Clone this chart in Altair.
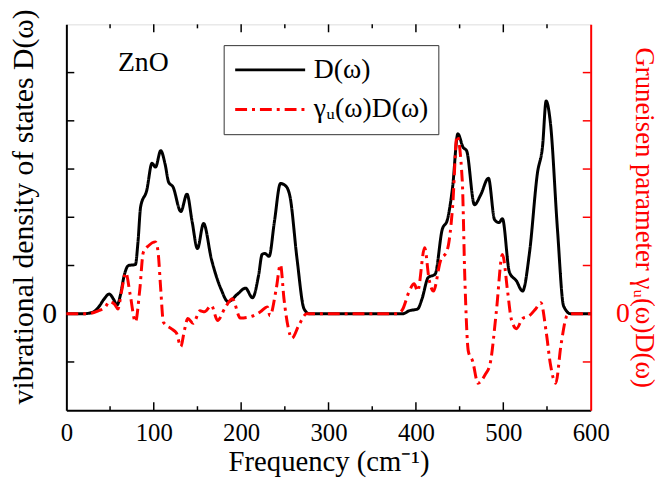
import altair as alt
import pandas as pd

# D(omega) curve: frequency (cm^-1), value
d_freq = [0, 20, 30, 37, 43, 49, 54, 58, 62, 66, 71, 79, 82, 85, 92, 98, 102, 108, 113, 117, 122, 131, 138,
          144, 150, 157, 166, 177, 185, 196, 205, 213, 220, 224, 227, 232, 238, 245, 251, 256, 264, 272, 278,
          385, 392, 402, 407, 414, 422, 430, 436, 442, 448, 454, 458, 467, 474, 483, 490, 495, 499, 507, 515,
          522, 530, 539, 545, 549, 554, 562, 569, 577, 600]
d_val = [0, 0, 0.03, 0.14, 0.3, 0.41, 0.3, 0.18, 0.4, 0.78, 1.0, 1.02, 1.5, 2.22, 2.56, 3.12, 3.04, 3.38, 3.1,
         2.73, 2.63, 2.12, 2.48, 1.9, 1.35, 1.87, 1.13, 0.51, 0.25, 0.41, 0.53, 0.33, 0.8, 1.23, 1.25, 1.19,
         1.9, 2.70, 2.65, 2.42, 1.13, 0.1, 0,
         0, 0.06, 0.1, 0.31, 0.75, 0.82, 1.74, 1.95, 2.63, 3.73, 3.45, 3.38, 2.26, 2.46, 2.81, 1.95, 1.89,
         1.97, 0.86, 0.68, 0.47, 1.27, 2.91, 3.49, 4.41, 3.94, 1.74, 0.16, 0, 0]

# gamma_u(omega) D(omega) curve
g_freq = [0, 23, 35, 45, 49, 55, 59, 63, 68, 73, 79, 84, 88, 94, 102, 105, 108, 111, 120, 126, 131, 135, 139,
          145, 153, 158, 166, 173, 181, 190, 199, 211, 222, 230, 233, 240, 245, 249, 254, 258, 266, 275,
          379, 385, 392, 398, 402, 410, 415, 420, 428, 436, 442, 447, 453, 456, 460, 465, 471, 479, 485,
          492, 499, 505, 509, 515, 522, 530, 537, 543, 549, 554, 560, 566, 573, 578, 600]
g_val = [0, 0, 0.05, 0.15, 0.25, 0.2, 0.1, 0.45, 0.85, 0.4, -0.17, 0.5, 1.27, 1.41, 1.49, 1.27, 0.5, -0.17,
         -0.31, -0.4, -0.68, -0.35, -0.1, -0.2, 0.06, 0.04, 0.17, -0.14, 0.1, 0.31, -0.09, -0.06, 0.04, 0.14,
         -0.04, 0.5, 1.02, 0.31, -0.3, -0.51, -0.24, 0,
         0, 0.1, 0.45, 0.62, 0.47, 1.37, 0.72, 0.47, 1.09, 1.33, 2.22, 3.69, 2.77, 0.72, -0.78, -0.99, -1.44,
         -1.27, -1.03, 0.04, 1.23, 0.45, -0.10, -0.31, -0.10, -0.04, 0.1, 0.23, -0.37, -1.06, -1.44, -0.65,
         -0.04, 0, 0]

series_names = ["D(ω)", "γᵤ(ω)D(ω)"]
y_ticks = [-1, 1, 2, 3, 4, 5]
x_major = [100, 200, 300, 400, 500]
x_minor = [50, 150, 250, 350, 450, 550]
x_labels = [0, 100, 200, 300, 400, 500, 600]
note_text = ["ZnO"]
note_x = [88]
note_y = [5.19]

FONT = "Liberation Serif"
W, H = 530, 390
YDOM = [-2, 6]

df = pd.concat([
    pd.DataFrame({"f": d_freq, "v": d_val, "s": series_names[0], "o": range(len(d_freq))}),
    pd.DataFrame({"f": g_freq, "v": g_val, "s": series_names[1], "o": range(len(g_freq))}),
])

x_enc = alt.X("f:Q", scale=alt.Scale(domain=[0, 600], nice=False, zero=False),
              axis=alt.Axis(values=x_labels, ticks=False, grid=False, domainColor="black", domainWidth=2,
                            labelFont=FONT, labelFontSize=25, labelColor="black", labelPadding=11,
                            labelFlush=False, title="Frequency (cm⁻¹)", titleFont=FONT, titleFontSize=29,
                            titleFontWeight="normal", titleColor="black", titlePadding=2))

yscale = alt.Scale(domain=YDOM, nice=False, zero=False)

leg = alt.Legend(orient="none", legendX=159, legendY=21, title=None, strokeColor="#333333",
                 fillColor="white", padding=10, rowPadding=10, symbolType="stroke", symbolSize=5000,
                 symbolStrokeWidth=3, labelFont=FONT, labelFontSize=28, labelColor="black",
                 labelOffset=7, symbolOffset=0, clipHeight=30)

lines = alt.Chart(df).mark_line(strokeWidth=3, interpolate="monotone").encode(
    x=x_enc,
    y=alt.Y("v:Q", scale=yscale,
            axis=alt.Axis(values=[0], ticks=False, grid=False, domainColor="black", domainWidth=2,
                          labelFont=FONT, labelFontSize=30, labelColor="black", labelPadding=10,
                          title="vibrational density of states D(ω)", titleFont=FONT, titleFontSize=30,
                          titleFontWeight="normal", titleColor="black", titlePadding=3, titleY=184)),
    color=alt.Color("s:N", scale=alt.Scale(domain=series_names, range=["black", "red"]), legend=leg),
    strokeDash=alt.StrokeDash("s:N", scale=alt.Scale(domain=series_names, range=[[1, 0], [12, 5, 3, 5]]),
                              legend=leg),
    order="o:Q",
)

left_ticks = alt.Chart(pd.DataFrame({"t": y_ticks})).mark_rule(color="black", strokeWidth=1.5).encode(
    x=alt.value(0), x2=alt.value(8), y=alt.Y("t:Q", scale=yscale, axis=None))

right_ticks = alt.Chart(pd.DataFrame({"t": y_ticks})).mark_rule(color="red", strokeWidth=1.5).encode(
    x=alt.value(W - 8), x2=alt.value(W),
    y=alt.Y("t:Q", scale=yscale,
            axis=alt.Axis(orient="right", values=[0], ticks=False, grid=False, domainColor="red",
                          domainWidth=2, labelFont=FONT, labelFontSize=28, labelColor="red",
                          labelPadding=25, title="Gruneisen parameter γᵤ(ω)D(ω)", titleFont=FONT,
                          titleFontSize=27, titleFontWeight="normal", titleColor="red", titlePadding=0)))

def xticks(vals, y0, y1):
    return alt.Chart(pd.DataFrame({"f": vals})).mark_rule(color="black", strokeWidth=1.5).encode(
        x=x_enc, y=alt.value(y0), y2=alt.value(y1))

bot_major = xticks(x_major, H, H - 8)
bot_minor = xticks(x_minor, H, H - 4)
top_major = xticks(x_major, 0, 8)
top_minor = xticks(x_minor, 0, 4)

note = alt.Chart(pd.DataFrame({"f": note_x, "v": note_y, "t": note_text})).mark_text(
    font=FONT, fontSize=28, color="black", align="center", baseline="middle").encode(
    x=x_enc, y=alt.Y("v:Q", scale=yscale, axis=None), text="t:N")

chart = alt.layer(lines, left_ticks, right_ticks, bot_major, bot_minor, top_major, top_minor, note).resolve_scale(
    y="independent").properties(
    width=W, height=H, autosize=alt.AutoSizeParams(type="none"),
    padding={"left": 59, "top": 14, "right": 65, "bottom": 66},
).configure_view(stroke="black", strokeWidth=2).configure(background="white")

chart.save("out.html", embed_options={"renderer": "svg", "actions": False})
